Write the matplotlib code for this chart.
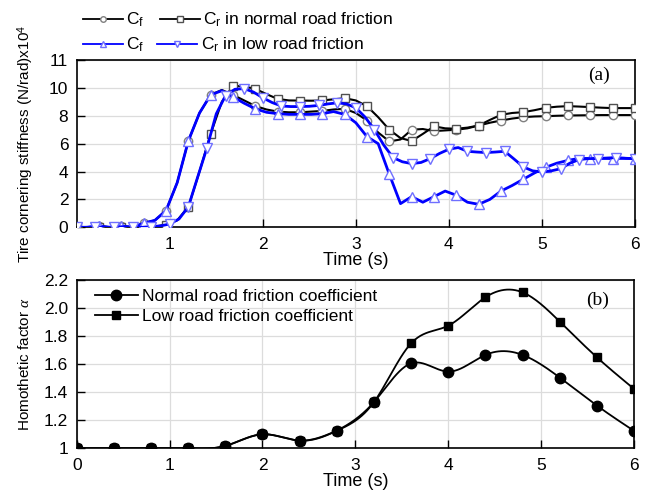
import numpy as np
import matplotlib
matplotlib.use("Agg")
import matplotlib.pyplot as plt

plt.rcParams['font.family'] = ['Liberation Sans', 'DejaVu Sans']
plt.rcParams['mathtext.fontset'] = 'custom'
plt.rcParams['mathtext.rm'] = 'Liberation Sans'
plt.rcParams['mathtext.it'] = 'Liberation Serif:italic'

# panel (a) data, x10^4 N/rad
t_a = [0.12 * i for i in range(51)]   # grid for Cf/Cr normal and Cf low
cf_normal = [0.0, 0.0, 0.1, 0.0, 0.1, 0.0, 0.3, 0.5, 1.2, 3.2,
             6.2, 8.2, 9.5, 9.85, 9.5, 9.1, 8.7, 8.45, 8.3, 8.25,
             8.25, 8.3, 8.35, 8.45, 8.5, 8.2, 7.66, 6.8, 6.16, 6.3,
             7.0, 7.05, 6.9, 6.95, 7.0, 7.1, 7.3, 7.5, 7.66, 7.8,
             7.9, 7.95, 7.97, 8.0, 8.02, 8.03, 8.04, 8.05, 8.05, 8.05, 8.05]
cr_normal = [0.0, 0.0, 0.0, 0.0, 0.05, 0.0, 0.0, 0.05, 0.2, 0.5,
             1.47, 4.0, 6.7, 9.0, 10.15, 10.1, 9.93, 9.55, 9.21, 9.1,
             9.09, 9.08, 9.1, 9.18, 9.26, 9.1, 8.69, 7.9, 7.0, 6.4,
             6.19, 6.7, 7.24, 7.1, 7.07, 7.15, 7.3, 7.7, 8.07, 8.2,
             8.26, 8.4, 8.57, 8.65, 8.69, 8.66, 8.62, 8.58, 8.55, 8.55, 8.55]
cf_low = [0.0, 0.0, 0.1, 0.0, 0.1, 0.0, 0.3, 0.5, 1.2, 3.2,
          6.2, 8.2, 9.5, 9.8, 9.35, 8.9, 8.5, 8.25, 8.15, 8.1,
          8.1, 8.1, 8.15, 8.3, 8.1, 7.5, 6.5, 6.0, 3.8, 1.7,
          2.2, 1.8, 2.2, 2.6, 2.3, 1.8, 1.65, 2.0, 2.6, 3.0,
          3.45, 3.9, 4.3, 4.6, 4.8, 4.95, 4.93, 4.95, 4.93, 4.95, 4.93]
t_b = [0.1 * i for i in range(61)]    # grid for Cr low
cr_low = [0.0, 0.0, 0.05, 0.0, 0.0, 0.05, 0.0, 0.0, 0.05, 0.1,
          0.24, 0.6, 1.47, 3.6, 5.7, 8.14, 9.45, 9.9, 9.95, 9.7,
          9.29, 8.95, 8.7, 8.66, 8.66, 8.68, 8.74, 8.85, 8.93, 8.85,
          8.57, 7.9, 7.0, 5.9, 5.0, 4.7, 4.57, 4.65, 4.93, 5.3,
          5.6, 5.72, 5.45, 5.4, 5.36, 5.4, 5.45, 4.9, 4.33, 4.05,
          3.97, 4.05, 4.2, 4.6, 4.86, 4.93, 4.93, 4.97, 5.0, 4.95, 4.93]

# panel (b) data
t_alpha = [0.4 * i for i in range(16)]
alpha_normal = [1.0, 1.0, 1.0, 1.0, 1.017, 1.10, 1.055, 1.126, 1.33, 1.607,
                1.548, 1.667, 1.667, 1.505, 1.305, 1.124]
alpha_low = [1.0, 1.0, 1.0, 1.0, 1.017, 1.10, 1.055, 1.126, 1.33, 1.75,
             1.876, 2.079, 2.114, 1.905, 1.65, 1.424]


def smooth(x, y, n=400):
    # natural cubic spline, just for drawing the curve between points
    x = np.asarray(x, float)
    y = np.asarray(y, float)
    m = len(x)
    h = np.diff(x)
    A = np.zeros((m, m))
    r = np.zeros(m)
    A[0, 0] = A[-1, -1] = 1
    for i in range(1, m - 1):
        A[i, i - 1] = h[i - 1]
        A[i, i] = 2 * (h[i - 1] + h[i])
        A[i, i + 1] = h[i]
        r[i] = 6 * ((y[i + 1] - y[i]) / h[i] - (y[i] - y[i - 1]) / h[i - 1])
    M = np.linalg.solve(A, r)
    xs = np.linspace(x[0], x[-1], n)
    k = np.clip(np.searchsorted(x, xs) - 1, 0, m - 2)
    a = x[k + 1] - xs
    b = xs - x[k]
    hk = h[k]
    ys = (M[k] * a ** 3 + M[k + 1] * b ** 3) / (6 * hk) \
        + (y[k] / hk - M[k] * hk / 6) * a + (y[k + 1] / hk - M[k + 1] * hk / 6) * b
    return xs, ys


fig = plt.figure(figsize=(6.51, 4.93), dpi=100)
ax1 = fig.add_axes([0.1178, 0.5389, 0.8576, 0.3394])
ax2 = fig.add_axes([0.1178, 0.0907, 0.8562, 0.3407])

blue = '#0000ff'
tri_edge = '#6f6fff'
ax1.plot(t_a, cf_normal, color='black', lw=1.5, marker='o', ms=6,
         mfc='white', mec='#808080', markevery=2, zorder=3)
ax1.plot(t_a, cr_normal, color='black', lw=1.5, marker='s', ms=6,
         mfc='white', mec='#505050', markevery=2, zorder=3)
ax1.plot(t_a, cf_low, color=blue, lw=2, marker='^', ms=7,
         mfc='white', mec=tri_edge, markevery=2, zorder=4)
ax1.plot(t_b, cr_low, color=blue, lw=2, marker='v', ms=7,
         mfc='white', mec=tri_edge, markevery=2, zorder=4)

ax1.set_xlim(0, 6)
ax1.set_ylim(0, 12)
ax1.set_xticks([1, 2, 3, 4, 5, 6])
ax1.set_yticks([0, 2, 4, 6, 8, 10, 12])
ax1.set_yticklabels(['0', '2', '4', '6', '8', '10', '11'])
ax1.set_xlabel('Time (s)', fontsize=13, labelpad=0)
ax1.set_ylabel('Tire cornering stiffness (N/rad)x10$^4$', fontsize=11, labelpad=9)
ax1.text(0.955, 0.91, '(a)', transform=ax1.transAxes, ha='right', va='center',
         fontsize=14, family='Liberation Serif')

# legend above panel (a): one row per friction case, small markers as in the source
lg_cfn = plt.Line2D([], [], color='black', lw=1.3, marker='o', ms=4, mfc='white', mec='#808080')
lg_crn = plt.Line2D([], [], color='black', lw=1.3, marker='s', ms=4, mfc='white', mec='#505050')
lg_cfl = plt.Line2D([], [], color=blue, lw=1.3, marker='^', ms=5, mfc='white', mec=tri_edge)
lg_crl = plt.Line2D([], [], color=blue, lw=1.3, marker='v', ms=5, mfc='white', mec=tri_edge)
leg_kw = dict(ncol=2, loc='center left', frameon=False, fontsize=12.5, handlelength=2.3,
              handletextpad=0.2, borderaxespad=0, borderpad=0)
fig.legend([lg_cfn, lg_crn], ['C$_\\mathrm{f}$', 'C$_\\mathrm{r}$ in normal road friction'],
           bbox_to_anchor=(0.127, 1 - 20 / 493), columnspacing=0.9, **leg_kw)
fig.legend([lg_cfl, lg_crl], ['C$_\\mathrm{f}$', 'C$_\\mathrm{r}$ in low road friction'],
           bbox_to_anchor=(0.127, 1 - 45 / 493), columnspacing=0.75, **leg_kw)

xs, ys = smooth(t_alpha, alpha_low)
ax2.plot(xs, ys, color='black', lw=1.3)
ax2.plot(t_alpha, alpha_low, ls='none', marker='s', ms=6, color='black')
xs, ys = smooth(t_alpha, alpha_normal)
ax2.plot(xs, ys, color='black', lw=1.3)
ax2.plot(t_alpha, alpha_normal, ls='none', marker='o', ms=7.5, color='black')

ax2.set_xlim(0, 6)
ax2.set_ylim(1, 2.2)
ax2.set_xticks([0, 1, 2, 3, 4, 5, 6])
ax2.set_yticks([1.0, 1.2, 1.4, 1.6, 1.8, 2.0, 2.2])
ax2.set_yticklabels(['1', '1.2', '1.4', '1.6', '1.8', '2.0', '2.2'])
ax2.set_xlabel('Time (s)', fontsize=13, labelpad=0)
ax2.set_ylabel('Homothetic factor $\\alpha$', fontsize=11, labelpad=9)
ax2.text(0.955, 0.88, '(b)', transform=ax2.transAxes, ha='right', va='center',
         fontsize=14, family='Liberation Serif')

lh_n = plt.Line2D([], [], color='black', lw=1.3, marker='o', ms=7.5)
lh_l = plt.Line2D([], [], color='black', lw=1.3, marker='s', ms=6)
ax2.legend([lh_n, lh_l], ['Normal road friction coefficient', 'Low road friction coefficient'],
           loc='upper left', bbox_to_anchor=(0.02, 0.99), frameon=False, fontsize=12.5,
           handlelength=2.5, handletextpad=0.2, labelspacing=0.25, borderaxespad=0)

for ax in (ax1, ax2):
    ax.grid(True, color='#dcdcdc', lw=0.9)
    ax.set_axisbelow(True)
    ax.tick_params(direction='in', length=6, width=1, labelsize=12.5)
    ax.tick_params(axis='x', pad=7)
    ax.tick_params(axis='y', pad=6)
    for s in ax.spines.values():
        s.set_linewidth(1.2)

fig.savefig('out.png', dpi=100)
